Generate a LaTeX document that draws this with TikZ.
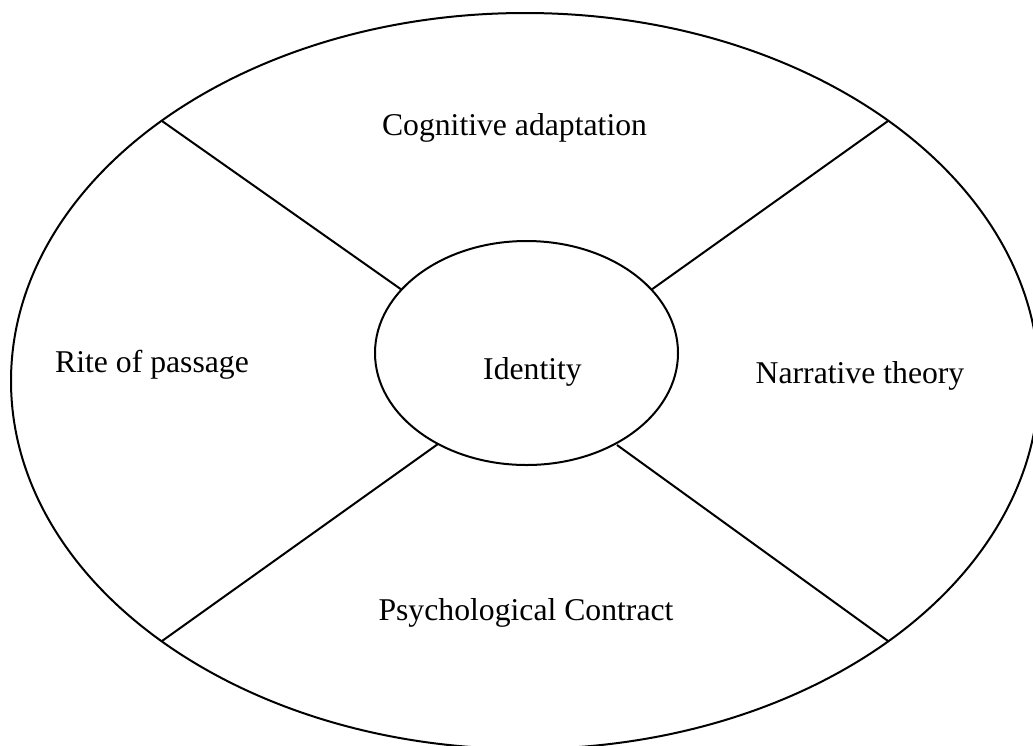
\documentclass[tikz,border=0pt]{standalone}
\usepackage{fontspec}
\setmainfont{Liberation Serif}
\begin{document}
\begin{tikzpicture}[x=1pt,y=-1pt,line width=2pt,
  lbl/.style={anchor=base,inner sep=0pt,font=\fontsize{31.7}{38}\selectfont}]
\useasboundingbox (0,0) rectangle (1033,745);
\clip (0,0) rectangle (1033,745);
\draw (525,381) ellipse [x radius=514, y radius=368];
\draw (526.5,353) ellipse [x radius=151.5, y radius=112];
\coordinate (o1) at (162,121);
\coordinate (o2) at (888,121);
\coordinate (o3) at (162,641);
\coordinate (o4) at (888,641);
\coordinate (i1) at (402,290);
\coordinate (i2) at (651,290);
\coordinate (i3) at (438,444);
\coordinate (i4) at (617,445);
\draw (o1) -- (i1);
\draw (o2) -- (i2);
\draw (o3) -- (i3);
\draw (o4) -- (i4);
\node[lbl] (cog) at (514.5,135) {Cognitive adaptation};
\node[lbl] (rite) at (152,372) {Rite of passage};
\node[lbl] (ident) at (532.5,379) {Identity};
\node[lbl] (narr) at (860,383) {Narrative theory};
\node[lbl] (psy) at (526,620) {Psychological Contract};
\end{tikzpicture}
\end{document}
